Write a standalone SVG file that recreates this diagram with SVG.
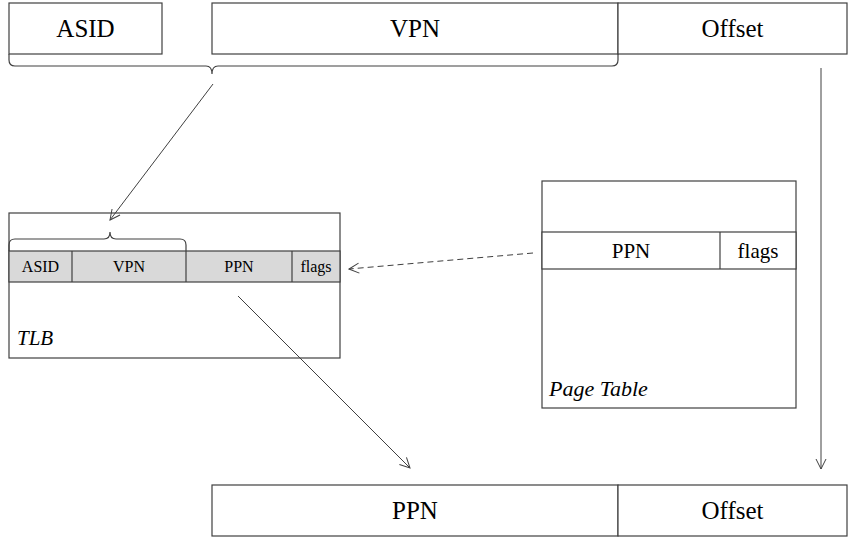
<svg xmlns="http://www.w3.org/2000/svg" width="854" height="546" viewBox="0 0 854 546">
<defs>
<marker id="arr" viewBox="0 0 12 12" refX="11" refY="6" markerWidth="12" markerHeight="12" markerUnits="userSpaceOnUse" orient="auto">
<path d="M1,1 L11,6 L1,11" fill="none" stroke="#404040" stroke-width="1"/>
</marker>
<style>
.box{fill:#fff;stroke:#404040;stroke-width:1.2}
.row{fill:#d9d9d9;stroke:#404040;stroke-width:1.2}
.ln{fill:none;stroke:#404040;stroke-width:1.2}
.t{font-family:"Liberation Serif","Times New Roman",serif;fill:#000;text-anchor:middle}
.big{font-size:25px}
.mid{font-size:21px}
.sm{font-size:16px}
.it{font-family:"Liberation Serif","Times New Roman",serif;font-style:italic;fill:#000}
.con{fill:none;stroke:#404040;stroke-width:1}
</style>
</defs>
<rect width="854" height="546" fill="#fff"/>
<g id="va-asid"><rect class="box" x="9" y="3" width="153" height="51"/><text class="t big" x="85.5" y="37">ASID</text></g>
<g id="va-vpn"><rect class="box" x="212" y="3" width="406" height="51"/><text class="t big" x="415" y="37">VPN</text></g>
<g id="va-offset"><rect class="box" x="618" y="3" width="229" height="51"/><text class="t big" x="732.5" y="37">Offset</text></g>
<g id="va-brace"><path class="ln" d="M9,54 V60 Q9,66 15,66 H206 Q212,66 212,74 Q212,66 218,66 H612 Q618,66 618,60 V54"/></g>
<g id="tlb">
<rect class="box" x="9" y="213" width="331" height="145"/>
<rect class="row" x="9" y="251" width="331" height="31"/>
<line class="ln" x1="72" y1="251" x2="72" y2="282"/>
<line class="ln" x1="186" y1="251" x2="186" y2="282"/>
<line class="ln" x1="292" y1="251" x2="292" y2="282"/>
<text class="t sm" x="40.5" y="272">ASID</text>
<text class="t sm" x="129" y="272">VPN</text>
<text class="t sm" x="239" y="272">PPN</text>
<text class="t sm" x="316" y="272">flags</text>
<path class="ln" d="M9,251 V245 Q9,239 15,239 H104 Q110,239 110,232 Q110,239 116,239 H180 Q186,239 186,245 V251"/>
<text class="it" x="17" y="345" font-size="21">TLB</text>
</g>
<g id="page-table">
<rect class="box" x="542" y="181" width="254" height="227"/>
<rect class="box" x="542" y="232" width="254" height="37"/>
<line class="ln" x1="720" y1="232" x2="720" y2="269"/>
<text class="t mid" x="631" y="258">PPN</text>
<text class="t mid" x="758" y="258">flags</text>
<text class="it" x="549" y="396" font-size="22">Page Table</text>
</g>
<g id="pa">
<rect class="box" x="212" y="485" width="406" height="51"/>
<rect class="box" x="618" y="485" width="229" height="51"/>
<text class="t big" x="415" y="519">PPN</text>
<text class="t big" x="732.5" y="519">Offset</text>
</g>
<g id="connectors">
<line class="con" x1="213" y1="84" x2="110" y2="220" marker-end="url(#arr)"/>
<line class="con" x1="533" y1="253" x2="349" y2="269" stroke-dasharray="6,4" marker-end="url(#arr)"/>
<line class="con" x1="238" y1="296" x2="410" y2="468" marker-end="url(#arr)"/>
<line class="con" x1="821" y1="68" x2="821" y2="469" marker-end="url(#arr)"/>
</g>
</svg>
